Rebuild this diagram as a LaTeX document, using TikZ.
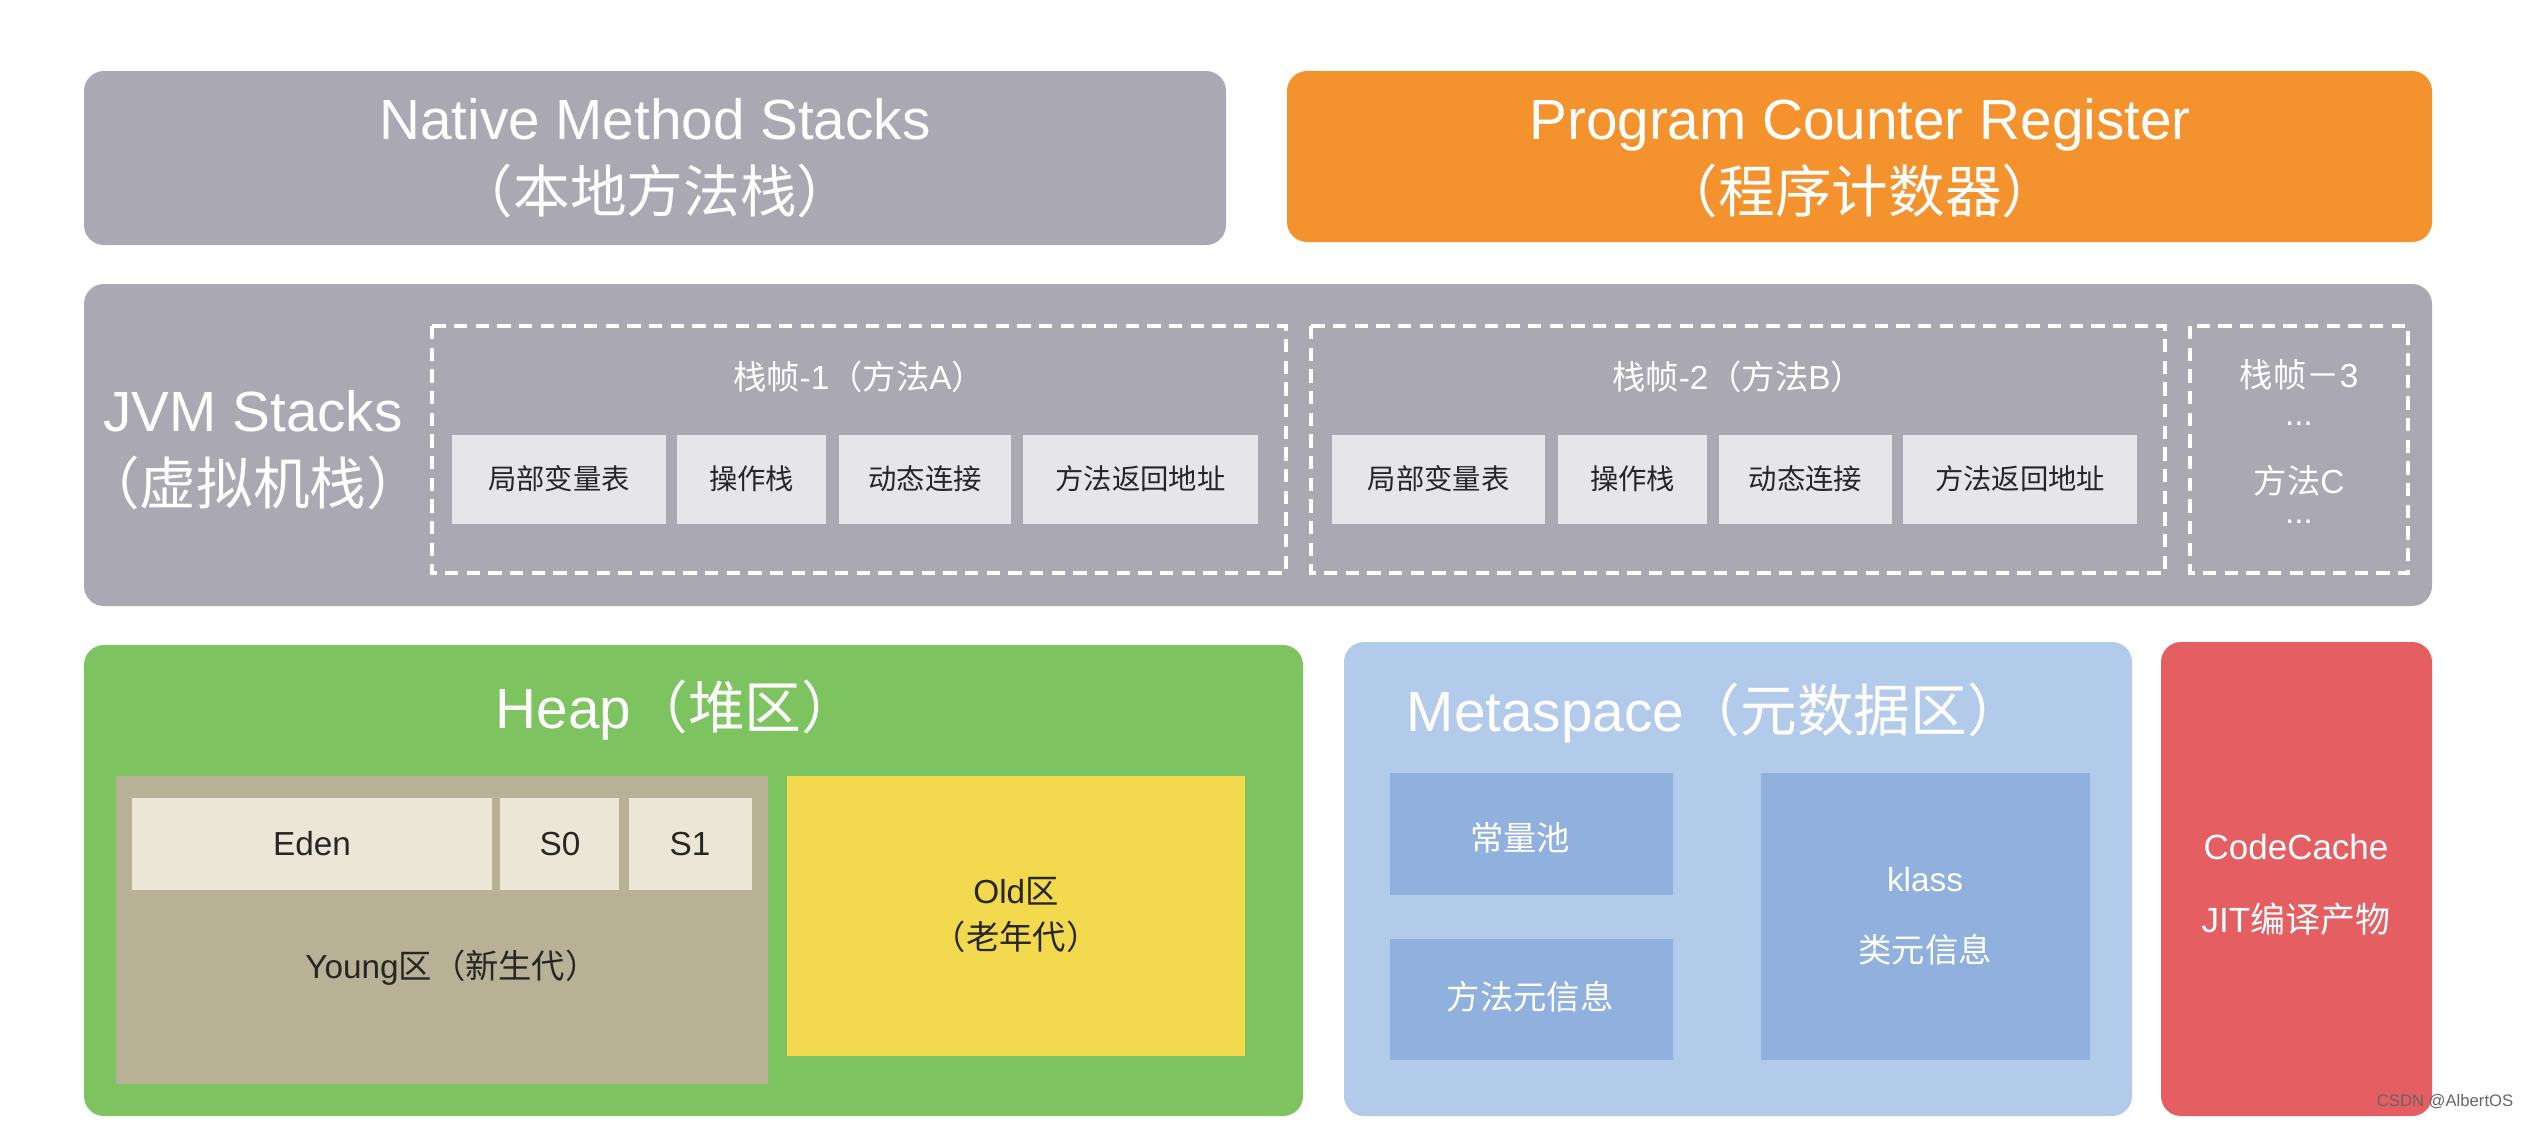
\documentclass[tikz,border=0pt]{standalone}
\usepackage{fontspec}
\setmainfont{Liberation Sans}
\newfontfamily\cjk{Noto Sans CJK SC}
\definecolor{gbox}{HTML}{A9A8B3}
\definecolor{orng}{HTML}{F4922E}
\definecolor{lite}{HTML}{E6E5EA}
\definecolor{heapg}{HTML}{7DC35F}
\definecolor{tan}{HTML}{B8B195}
\definecolor{edenc}{HTML}{ECE6D6}
\definecolor{oldc}{HTML}{F2D94E}
\definecolor{metac}{HTML}{B3CBEA}
\definecolor{metain}{HTML}{90B1DD}
\definecolor{codec}{HTML}{E45E62}
\tikzset{
 area/.style={rounded corners=6pt,inner sep=0pt},
 wt/.style={text=white,align=center},
 dk/.style={text=black!85,align=center},
 dframe/.style={draw=white,dashed,line width=1.1pt,dash pattern=on 4pt off 2.5pt},
}
\begin{document}
\begin{tikzpicture}[x=0.3pt,y=-0.3pt]
\useasboundingbox[fill=white] (0,0) rectangle (2529,1121);
% top
\fill[gbox,area] (84,71) rectangle (1226,245);
\node[wt,font=\fontsize{17}{22}\selectfont] (nat) at (655,158) {Native Method Stacks\\{\cjk （本地方法栈）}};
\fill[orng,area] (1287,71) rectangle (2432,242);
\node[wt,font=\fontsize{17}{22}\selectfont] (pcr) at (1860,158) {Program Counter Register\\{\cjk （程序计数器）}};
% JVM stacks
\fill[gbox,area] (84,284) rectangle (2432,606);
\node[wt,font=\fontsize{17}{22}\selectfont] (jvm) at (253,450) {JVM Stacks\\{\cjk （虚拟机栈）}};
\draw[dframe] (432,326) rectangle (1286,573);
\draw[dframe] (1311,326) rectangle (2165,573);
\draw[dframe] (2190,326) rectangle (2408,573);
\node[wt,font=\fontsize{10}{12}\selectfont] (f1) at (859,377) {{\cjk 栈帧}-1{\cjk （方法}A{\cjk ）}};
\node[wt,font=\fontsize{10}{12}\selectfont] (f2) at (1738,377) {{\cjk 栈帧}-2{\cjk （方法}B{\cjk ）}};
\node[wt,font=\fontsize{10}{12}\selectfont] (f3a) at (2299,375) {{\cjk 栈帧－}3};
\node[wt,font=\fontsize{10}{12}\selectfont] (f3b) at (2299,424) {...};
\node[wt,font=\fontsize{10}{12}\selectfont] (f3c) at (2299,481) {{\cjk 方法}C};
\node[wt,font=\fontsize{10}{12}\selectfont] (f3d) at (2299,522) {...};
\foreach \a/\b/\t/\n in {452/666/局部变量表/a1,677/826/操作栈/a2,839/1011/动态连接/a3,1023/1258/方法返回地址/a4,1332/1545/局部变量表/b1,1558/1707/操作栈/b2,1719/1892/动态连接/b3,1903/2137/方法返回地址/b4}{
 \fill[lite] (\a,435) rectangle (\b,524);
 \node[dk,font=\cjk\fontsize{8.5}{10}\selectfont] (\n) at ({(\a+\b)/2},479) {\t};
}
% Heap
\fill[heapg,area] (84,645) rectangle (1303,1116);
\node[wt,font=\fontsize{17}{22}\selectfont] (heap) at (677,710) {Heap{\cjk （堆区）}};
\fill[tan] (116,776) rectangle (768,1084);
\fill[edenc] (132,798) rectangle (492,890);
\fill[edenc] (500,798) rectangle (619,890);
\fill[edenc] (629,798) rectangle (752,890);
\node[dk,font=\fontsize{10}{12}\selectfont] (eden) at (312,844) {Eden};
\node[dk,font=\fontsize{10}{12}\selectfont] (s0) at (560,844) {S0};
\node[dk,font=\fontsize{10}{12}\selectfont] (s1) at (690,844) {S1};
\node[dk,font=\fontsize{10}{12}\selectfont] (young) at (452,968) {Young{\cjk 区（新生代）}};
\fill[oldc] (787,776) rectangle (1245,1056);
\node[dk,font=\fontsize{10}{14}\selectfont] (old) at (1016,915) {Old{\cjk 区}\\{\cjk （老年代）}};
% Metaspace
\fill[metac,area] (1344,642) rectangle (2132,1116);
\node[wt,font=\fontsize{17}{22}\selectfont,anchor=west] (meta) at (1395,713) {Metaspace{\cjk （元数据区）}};
\fill[metain] (1390,773) rectangle (1673,895);
\fill[metain] (1390,939) rectangle (1673,1060);
\fill[metain] (1761,773) rectangle (2090,1060);
\node[wt,font=\cjk\fontsize{10}{12}\selectfont] (cp) at (1520,838) {常量池};
\node[wt,font=\cjk\fontsize{10}{12}\selectfont] (mm) at (1530,997) {方法元信息};
\node[wt,font=\fontsize{10}{12}\selectfont] (kl) at (1925,880) {klass};
\node[wt,font=\cjk\fontsize{10}{12}\selectfont] (km) at (1925,950) {类元信息};
% CodeCache
\fill[codec,area] (2161,642) rectangle (2432,1116);
\node[wt,font=\fontsize{10.5}{12}\selectfont] (cc) at (2296,847) {CodeCache};
\node[wt,font=\fontsize{10.5}{12}\selectfont] (jit) at (2296,919) {JIT{\cjk 编译产物}};
\node[text=black!60,font=\fontsize{5}{6}\selectfont,anchor=east] (wm) at (2525,1102) {CSDN @AlbertOS};
\end{tikzpicture}
\end{document}
